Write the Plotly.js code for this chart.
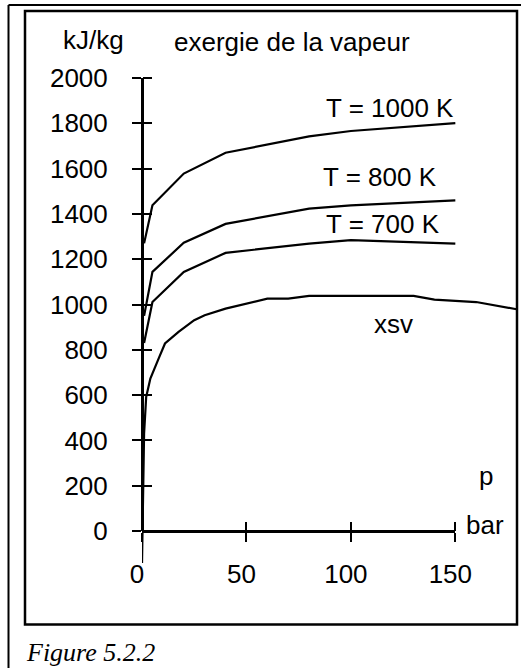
<!DOCTYPE html>
<html>
<head>
<meta charset="utf-8">
<script src="https://cdn.plot.ly/plotly-3.0.1.min.js"></script>
<style>
  html, body { margin: 0; padding: 0; background: #fff; }
  #chart { width: 521px; height: 668px; }
</style>
</head>
<body>
<div id="chart"></div>
<script>
// ---- data ----
const pressureT = [1, 5, 20, 40, 80, 100, 150];          // bar
const exergy1000K = [1270, 1438, 1578, 1670, 1742, 1766, 1801]; // kJ/kg
const exergy800K  = [950, 1144, 1273, 1356, 1423, 1438, 1460];
const exergy700K  = [830, 1011, 1144, 1228, 1269, 1284, 1269];
const pressureXsv = [0.01, 1, 2, 4, 8, 11, 17.5, 25, 30, 40, 60, 70, 80, 130, 140, 160, 180];
const exergyXsv   = [-141, 431, 592, 673, 762, 828, 879, 931, 953, 982, 1026, 1026, 1038, 1038, 1022, 1011, 978];

const xTicks = [0, 50, 100, 150];
const yTicks = [0, 200, 400, 600, 800, 1000, 1200, 1400, 1600, 1800, 2000];
const curveLabels = ['T = 1000 K', 'T = 800 K', 'T = 700 K', 'xsv'];

// ---- layout geometry ----
const W = 521, H = 668;
const ML = 142, MR = 3, MT = 78, MB = 105;
const PW = W - ML - MR, PH = H - MT - MB;
const xMax = 180, yMin = -141, yMax = 2000;
const y0frac = (0 - yMin) / (yMax - yMin);
const px = v => (v - ML) / PW;
const py = v => (H - MB - v) / PH;

const SANS = 'Liberation Sans, Arial, sans-serif';
const FS = 26;

const line = {color: '#000', width: 2.2};
const traces = [
  {x: pressureT, y: exergy1000K, name: curveLabels[0], mode: 'lines', line},
  {x: pressureT, y: exergy800K, name: curveLabels[1], mode: 'lines', line},
  {x: pressureT, y: exergy700K, name: curveLabels[2], mode: 'lines', line},
  {x: pressureXsv, y: exergyXsv, name: curveLabels[3], mode: 'lines', line},
  {x: [], y: [], xaxis: 'x2', yaxis: 'y2', mode: 'lines', showlegend: false, hoverinfo: 'skip'}
];

function ann(text, left, baseline, extra) {
  const fs = (extra && extra.font && extra.font.size) || FS;
  return Object.assign({
    text, xref: 'paper', yref: 'paper',
    x: px(left - 1), y: py(baseline - 0.347 * fs),
    xanchor: 'left', yanchor: 'middle', showarrow: false,
    font: {family: SANS, size: fs, color: '#000'}
  }, extra || {});
}

const layout = {
  width: W, height: H,
  margin: {l: ML, r: MR, t: MT, b: MB, pad: 0},
  paper_bgcolor: '#fff', plot_bgcolor: 'rgba(0,0,0,0)',
  showlegend: false,
  font: {family: SANS, size: FS, color: '#000'},
  xaxis: {
    range: [0, xMax], autorange: false, anchor: 'free', position: y0frac,
    showline: false, showgrid: false, zeroline: false,
    ticks: 'inside', tickvals: xTicks, ticklen: 9, tickwidth: 2, tickcolor: '#000',
    showticklabels: false
  },
  yaxis: {
    range: [yMin, yMax], autorange: false, anchor: 'free', position: 0, side: 'right',
    showline: false, showgrid: false, zeroline: false,
    ticks: 'outside', tickvals: yTicks, ticklen: 9, tickwidth: 2, tickcolor: '#000',
    showticklabels: false
  },
  xaxis2: {
    domain: [0, 150 / xMax], range: [0, 150], autorange: false,
    anchor: 'free', position: y0frac,
    showline: true, linewidth: 3, linecolor: '#000',
    showgrid: false, zeroline: false,
    ticks: 'outside', tickvals: xTicks, ticklen: 9, tickwidth: 2, tickcolor: '#000',
    ticklabelstandoff: 10, ticklabelshift: -5,
    tickfont: {family: SANS, size: FS, color: '#000'}
  },
  yaxis2: {
    domain: [y0frac, 1], range: [0, yMax], autorange: false,
    anchor: 'free', position: 0,
    showline: true, linewidth: 3, linecolor: '#000',
    showgrid: false, zeroline: false,
    ticks: 'outside', tickvals: yTicks, ticklen: 9, tickwidth: 2, tickcolor: '#000',
    ticklabelstandoff: 19,
    tickfont: {family: SANS, size: FS, color: '#000'}
  },
  annotations: [
    ann('kJ/kg', 62, 49),
    ann('exergie de la vapeur', 173, 51),
    ann(curveLabels[0], 325, 117),
    ann(curveLabels[1], 322, 186),
    ann(curveLabels[2], 325, 233),
    ann(curveLabels[3], 373, 333),
    ann('p', 478, 485),
    ann('bar', 465, 534),
    ann('Figure 5.2.2', 25, 662, {font: {family: 'Liberation Serif, Times New Roman, serif', size: 26, color: '#000', style: 'italic'}})
  ],
  shapes: [
    // outer frame (top and left edges)
    {type: 'line', xref: 'paper', yref: 'paper', x0: px(8.5), x1: px(530), y0: py(5), y1: py(5), line: {color: '#000', width: 2}},
    {type: 'line', xref: 'paper', yref: 'paper', x0: px(8.5), x1: px(8.5), y0: py(5), y1: py(680), line: {color: '#000', width: 2}},
    // inner box
    {type: 'rect', xref: 'paper', yref: 'paper', x0: px(25), x1: px(517), y0: py(11), y1: py(624.5), line: {color: '#000', width: 2.5}}
  ]
};

Plotly.newPlot('chart', traces, layout, {staticPlot: true, displayModeBar: false});
</script>
</body>
</html>
